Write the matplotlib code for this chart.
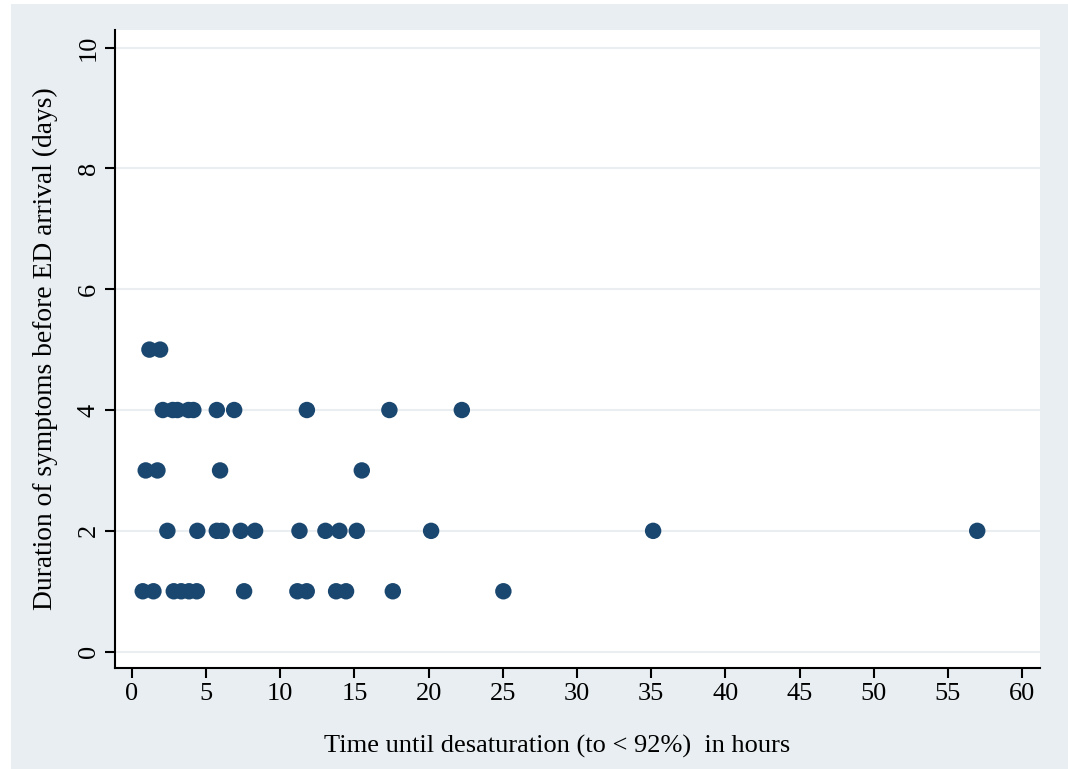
import matplotlib
matplotlib.use('Agg')
import matplotlib.pyplot as plt
from matplotlib.patches import Rectangle

# hours until desaturation, grouped by symptom days
hours_5 = [1.19, 1.91]
hours_4 = [2.09, 2.76, 3.08, 3.82, 4.15, 5.73, 6.9, 11.8, 17.36, 22.24]
hours_3 = [0.94, 1.73, 5.95, 15.5]
hours_2 = [2.40, 4.42, 5.73, 6.06, 7.34, 8.31, 11.3, 13.05, 13.99, 15.16, 20.17, 35.13, 56.97]
hours_1 = [0.74, 1.46, 2.83, 3.33, 3.86, 4.38, 7.57, 11.16, 11.79, 13.77, 14.44, 17.59, 25.04]

groups = [(5, hours_5), (4, hours_4), (3, hours_3), (2, hours_2), (1, hours_1)]

x_ticks = list(range(0, 61, 5))
y_ticks = [0, 2, 4, 6, 8, 10]

plt.rcParams['font.family'] = ['Liberation Serif', 'DejaVu Serif']

fig = plt.figure(figsize=(10.68, 7.69), dpi=100, facecolor='white')
# light grey-blue panel behind the plot
fig.patches.append(Rectangle((11 / 1068, 0), 1 - 11 / 1068, 1 - 4 / 769,
                             transform=fig.transFigure, facecolor='#e8eef1',
                             edgecolor='none', zorder=-10))

ax = fig.add_axes([115 / 1068, 101 / 769, 925 / 1068, 638 / 769])
ax.set_facecolor('white')

for days, hrs in groups:
    ax.scatter(hrs, [days] * len(hrs), s=140, color='#1a476f', edgecolors='none', zorder=3)

ax.set_xlim(-1.13, 61.2)
ax.set_ylim(-0.27, 10.29)
ax.set_xticks(x_ticks)
ax.set_yticks(y_ticks)
ax.grid(axis='y', color='#eaeef0', linewidth=1.5, zorder=0)
ax.set_axisbelow(True)

for side in ['top', 'right']:
    ax.spines[side].set_visible(False)
for side in ['left', 'bottom']:
    ax.spines[side].set_linewidth(1.5)

ax.tick_params(axis='both', length=7, width=1.5, labelsize=19, pad=4)
plt.setp(ax.get_yticklabels(), rotation=90, va='center')

ax.set_xlabel('Time until desaturation (to < 92%)  in hours', fontsize=19)
ax.set_ylabel('Duration of symptoms before ED arrival (days)', fontsize=19.8)
ax.xaxis.set_label_coords(0.478, -0.105)
ax.yaxis.set_label_coords(-0.062, 0.5)

fig.savefig('out.png', dpi=100, facecolor=fig.get_facecolor())
